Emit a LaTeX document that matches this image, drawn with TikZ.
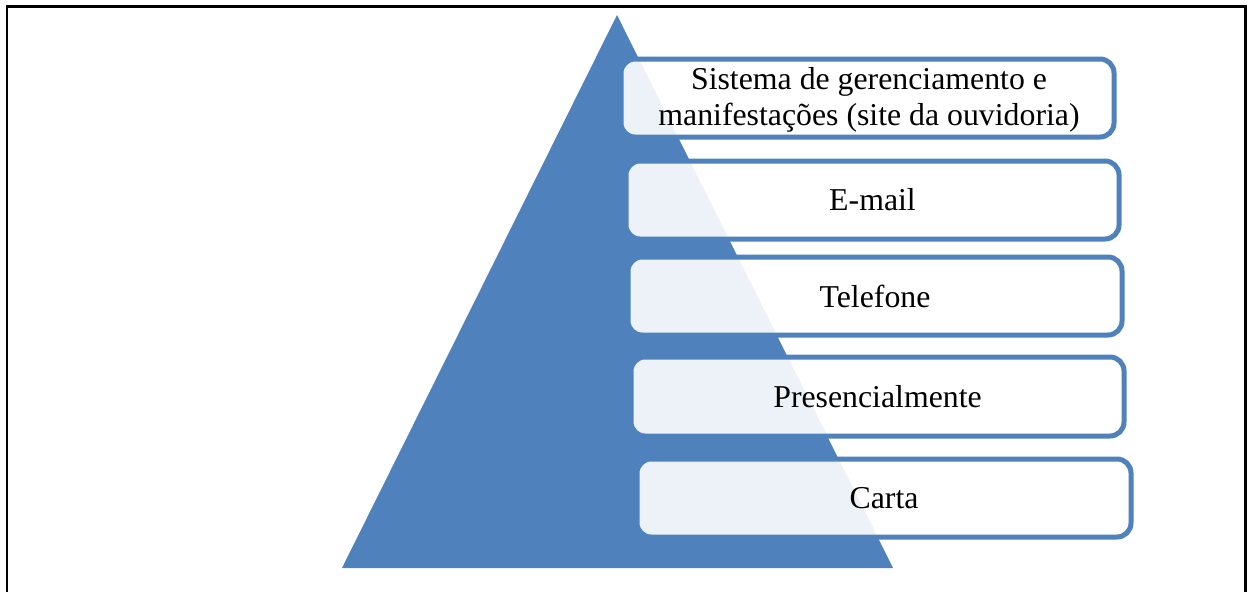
\documentclass[tikz,border=0pt]{standalone}
\usepackage{fontspec}
\setmainfont{Liberation Serif}
\definecolor{pyblue}{HTML}{4F81BD}
\begin{document}
\begin{tikzpicture}[x=1pt,y=-1pt,
  listbox/.style={draw=pyblue, line width=5pt, rounded corners=14pt, fill=white, fill opacity=0.9, text opacity=1},
  lbl/.style={font=\fontsize{31.8}{36}\selectfont, align=center, text=black}]
\useasboundingbox (0,0) rectangle (1249,592);
\fill[white] (0,0) rectangle (1249,592);
\draw[line width=2.6pt] (7,592) -- (7,6.5) -- (1245.5,6.5) -- (1245.5,592);
\fill[pyblue] (617,15) -- (893,568) -- (342,568) -- cycle;
\draw[listbox] (621,59) rectangle (1114,137);
\draw[listbox] (626,161) rectangle (1119,239);
\draw[listbox] (628,257) rectangle (1122,335);
\draw[listbox] (631,357) rectangle (1124,436);
\draw[listbox] (637,459) rectangle (1131,537);
\node[lbl] (t1) at (869,99.5) {Sistema de gerenciamento e\\manifestações (site da ouvidoria)};
\node[lbl] (t2) at (872.5,200) {E-mail};
\node[lbl] (t3) at (875,296.5) {Telefone};
\node[lbl] (t4) at (877.5,397) {Presencialmente};
\node[lbl] (t5) at (884,498) {Carta};
\end{tikzpicture}
\end{document}
